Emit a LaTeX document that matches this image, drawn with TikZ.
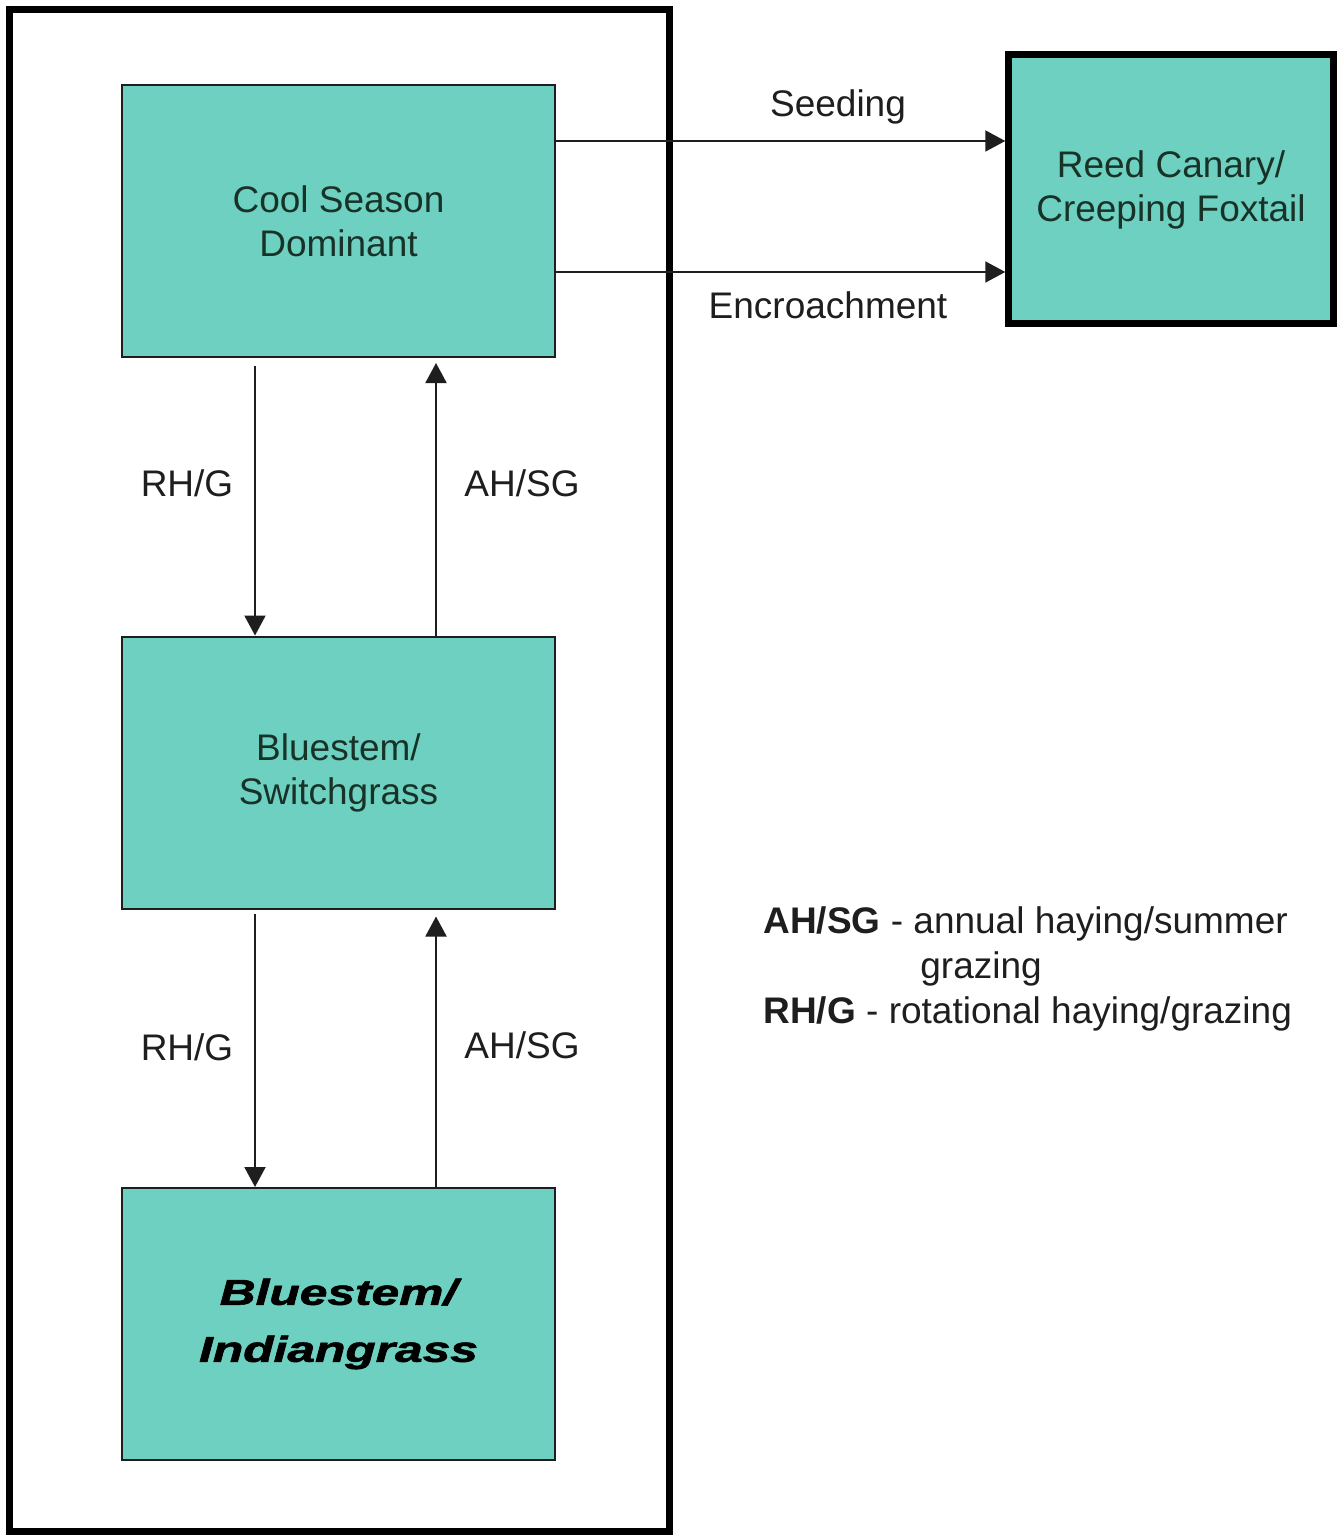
\documentclass[tikz,border=0pt]{standalone}
\usepackage{fontspec}
\usepackage{graphicx}
\setmainfont{Liberation Sans}
\newfontfamily\heavyfont[FakeBold=1.5]{Liberation Sans}
\usetikzlibrary{arrows.meta}
\definecolor{teal1}{RGB}{110,208,192}
\definecolor{boxtext}{RGB}{25,50,40}
\definecolor{ink}{RGB}{30,30,30}
\tikzset{
  statebox/.style={draw=ink, line width=1pt, fill=teal1, minimum width=216.5pt, minimum height=136pt, inner sep=0pt, align=center, text=boxtext, font=\fontsize{18.5pt}{22pt}\selectfont},
  arr/.style={draw=ink, line width=1pt, -{Triangle[length=10pt,width=10.5pt]}},
  lbl/.style={text=ink, inner sep=0pt, font=\fontsize{18.5pt}{22pt}\selectfont},
}
\begin{document}
\begin{tikzpicture}[x=0.5pt,y=-0.5pt]
\useasboundingbox (0,0) rectangle (1339,1535);
\fill[white] (0,0) rectangle (1339,1535);
% outer frame
\node[draw=black, line width=3.5pt, minimum width=330pt, minimum height=760.5pt, inner sep=0pt] (frame) at (339,770.5) {};
% boxes
\node[statebox] (cool) at (338.5,221) {Cool Season\\Dominant};
\node[statebox] (switch) at (338.5,772.5) {Bluestem/\\Switchgrass};
\node[statebox, font=\heavyfont\bfseries\itshape\fontsize{18pt}{28.5pt}\selectfont, text=black] (indian) at (338.5,1324) {\scalebox{1.38}[1]{Bluestem/}\\\scalebox{1.38}[1]{Indiangrass}};
\node[statebox, line width=3.5pt, draw=black, minimum width=162.25pt, minimum height=134.5pt] (reed) at (1171,189.5) {Reed Canary/\\Creeping Foxtail};
% horizontal arrows
\draw[arr] (cool.east |- 0,141) -- (reed.west |- 0,141);
\draw[arr] (cool.east |- 0,272) -- (reed.west |- 0,272);
\node[lbl] (seedl) at (838,107) {Seeding};
\node[lbl] (encl) at (828,305) {Encroachment};
% vertical arrows
\draw[arr, shorten <=4pt] (cool.south -| 255,0) -- (switch.north -| 255,0);
\draw[arr, shorten >=2.5pt] (switch.north -| 436,0) -- (cool.south -| 436,0);
\draw[arr, shorten <=2pt] (switch.south -| 255,0) -- (indian.north -| 255,0);
\draw[arr, shorten >=3.5pt] (indian.north -| 436,0) -- (switch.south -| 436,0);
\node[lbl] (rhg1) at (187,483) {RH/G};
\node[lbl] (ahsg1) at (522,483) {AH/SG};
\node[lbl] (rhg2) at (187,1047) {RH/G};
\node[lbl] (ahsg2) at (522,1045) {AH/SG};
% legend
\node[lbl, anchor=base west] (leg1) at (763,933) {\textbf{AH/SG} - annual haying/summer};
\node[lbl, anchor=base west] (leg2) at (920,978) {grazing};
\node[lbl, anchor=base west] (leg3) at (763,1023) {\textbf{RH/G} - rotational haying/grazing};
\end{tikzpicture}
\end{document}
